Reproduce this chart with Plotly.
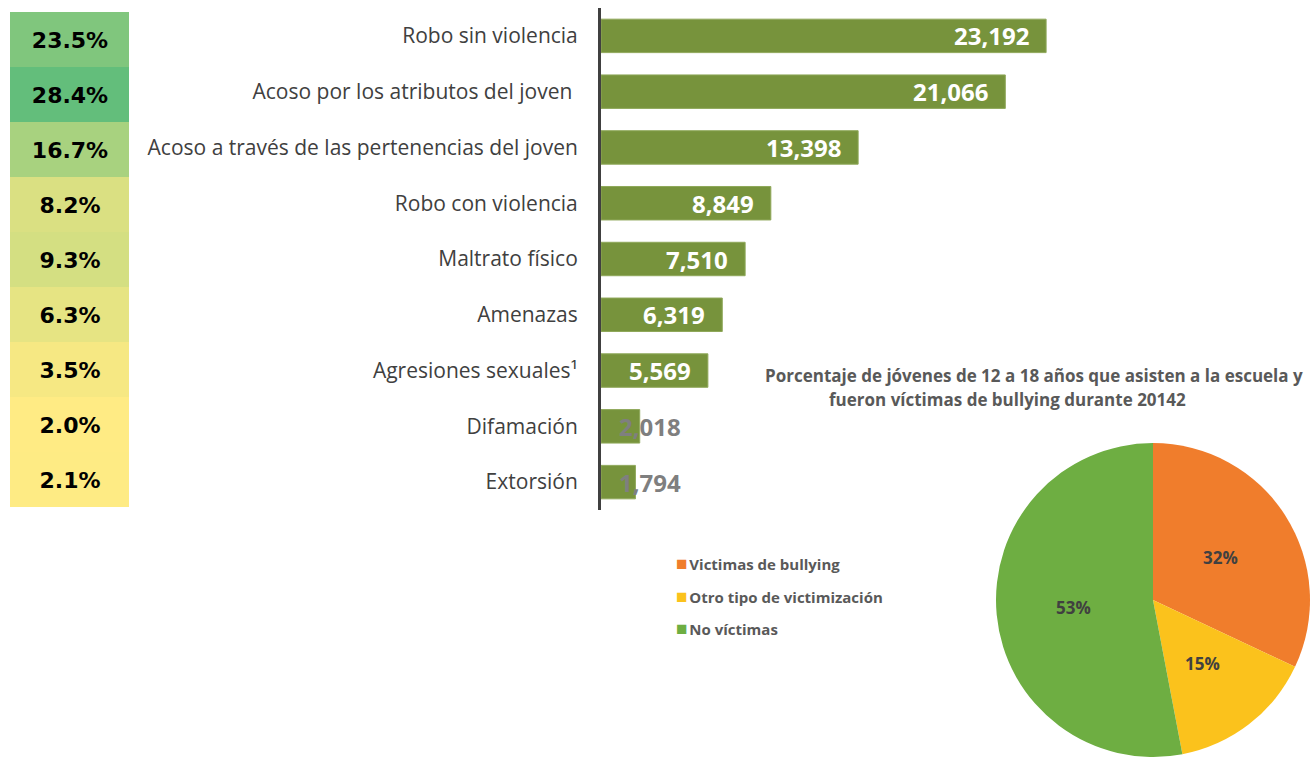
import math
import plotly.graph_objects as go

# Incidencia por tipo de acoso / victimización
categorias = [
    "Robo sin violencia",
    "Acoso por los atributos del joven ",
    "Acoso a través de las pertenencias del joven",
    "Robo con violencia",
    "Maltrato físico",
    "Amenazas",
    "Agresiones sexuales¹",
    "Difamación",
    "Extorsión",
]
casos = [23192, 21066, 13398, 8849, 7510, 6319, 5569, 2018, 1794]
porcentajes = [23.5, 28.4, 16.7, 8.2, 9.3, 6.3, 3.5, 2.0, 2.1]

# Distribución de jóvenes que asisten a la escuela
pie_labels = ["Victimas de bullying", "Otro tipo de victimización", "No víctimas"]
pie_values = [32, 15, 53]
pie_colors = ["#F07D2C", "#FBC21C", "#6EAE42"]

W, H = 1315, 757


def px_x(x):
    return x / W


def px_y(y):
    return 1 - y / H


# Geometría del pastel (en píxeles)
PIE_CX, PIE_CY, PIE_R = 1153, 600, 157

fig = go.Figure()

# Barras horizontales
fig.add_trace(go.Bar(
    x=casos,
    y=categorias,
    orientation="h",
    marker=dict(color="#77933C", line=dict(color="#8FA85A", width=1)),
    width=0.6,
    showlegend=False,
    hoverinfo="skip",
    xaxis="x",
    yaxis="y",
))

# Columna de porcentajes con escala de color
fig.add_trace(go.Heatmap(
    z=[[p] for p in porcentajes],
    x=[0],
    y=categorias,
    text=[[f"{p:.1f}%"] for p in porcentajes],
    texttemplate="%{text}",
    textfont=dict(family="DejaVu Sans", size=22, color="#000000", weight="bold"),
    colorscale=[[0, "#FFEB84"], [1, "#63BE7B"]],
    zmin=min(porcentajes),
    zmax=max(porcentajes),
    showscale=False,
    hoverinfo="skip",
    xaxis="x2",
    yaxis="y2",
))

# Gráfica de pastel
fig.add_trace(go.Pie(
    labels=pie_labels,
    values=pie_values,
    marker=dict(colors=pie_colors, line=dict(width=0)),
    sort=False,
    direction="clockwise",
    rotation=0,
    textinfo="none",
    domain=dict(x=[px_x(PIE_CX - PIE_R), px_x(PIE_CX + PIE_R)],
                y=[px_y(PIE_CY + PIE_R), px_y(PIE_CY - PIE_R)]),
    hoverinfo="skip",
    showlegend=False,
))

annotations = []

# Etiquetas de valor en las barras
for cat, val in zip(categorias, casos):
    if val > 4000:
        annotations.append(dict(
            x=val, y=cat, xref="x", yref="y", text=f"{val:,}",
            showarrow=False, xanchor="right", xshift=-15,
            font=dict(family="Open Sans", size=24, color="#FFFFFF", weight="bold"),
        ))
    else:
        annotations.append(dict(
            x=0, y=cat, xref="x", yref="y", text=f"{val:,}",
            showarrow=False, xanchor="left", xshift=16,
            font=dict(family="Open Sans", size=24, color="#7F7F7F", weight="bold"),
        ))

# Porcentajes del pastel, a media distancia del centro sobre el ángulo medio de cada rebanada
total = sum(pie_values)
acum = 0
for val in pie_values:
    mid = (acum + val / 2) / total * 2 * math.pi
    acum += val
    px = PIE_CX + 0.51 * PIE_R * math.sin(mid)
    py = PIE_CY - 0.51 * PIE_R * math.cos(mid)
    annotations.append(dict(
        x=px_x(px), y=px_y(py), xref="paper", yref="paper",
        text=f"{val / total:.0%}", showarrow=False,
        xanchor="center", yanchor="middle",
        font=dict(family="Open Sans", size=17, color="#404040", weight="bold"),
    ))

# Leyenda del pastel
legend_font = dict(family="Open Sans", size=15, color="#595959", weight="bold")
for i, (lab, col) in enumerate(zip(pie_labels, pie_colors)):
    annotations.append(dict(
        x=px_x(674), y=px_y(563 + 32.5 * i), xref="paper", yref="paper",
        text=(f"<span style='color:{col};font-size:19px'>■</span>"
              f"<span style='font-size:7px'> </span>{lab}"),
        showarrow=False, xanchor="left", yanchor="middle", font=legend_font,
    ))

title_font = dict(family="Open Sans", size=17, color="#595959", weight="bold")
annotations.append(dict(
    x=px_x(1034), y=px_y(375), xref="paper", yref="paper",
    text="Porcentaje de jóvenes de 12 a 18 años que asisten a la escuela y",
    showarrow=False, xanchor="center", yanchor="middle", font=title_font,
))
annotations.append(dict(
    x=px_x(1007), y=px_y(399), xref="paper", yref="paper",
    text="fueron víctimas de bullying durante 20142",
    showarrow=False, xanchor="center", yanchor="middle", font=title_font,
))

fig.update_layout(
    width=W,
    height=H,
    margin=dict(l=0, r=0, t=0, b=0),
    paper_bgcolor="white",
    plot_bgcolor="white",
    showlegend=False,
    xaxis=dict(
        domain=[px_x(601), px_x(1100)],
        range=[0, 26000],
        visible=False,
        fixedrange=True,
    ),
    yaxis=dict(
        domain=[px_y(510), px_y(8)],
        type="category",
        categoryorder="array",
        categoryarray=categorias,
        range=[8.5, -0.5],
        showline=True,
        linecolor="#404040",
        linewidth=3,
        showgrid=False,
        ticks="",
        ticklabelstandoff=16,
        tickfont=dict(family="Open Sans", size=21, color="#404040"),
    ),
    xaxis2=dict(
        domain=[px_x(10), px_x(129)],
        visible=False,
        anchor="y2",
    ),
    yaxis2=dict(
        domain=[px_y(507), px_y(12)],
        type="category",
        categoryorder="array",
        categoryarray=categorias,
        range=[8.5, -0.5],
        visible=False,
        anchor="x2",
    ),
    annotations=annotations,
)

fig.write_html("out.html")
